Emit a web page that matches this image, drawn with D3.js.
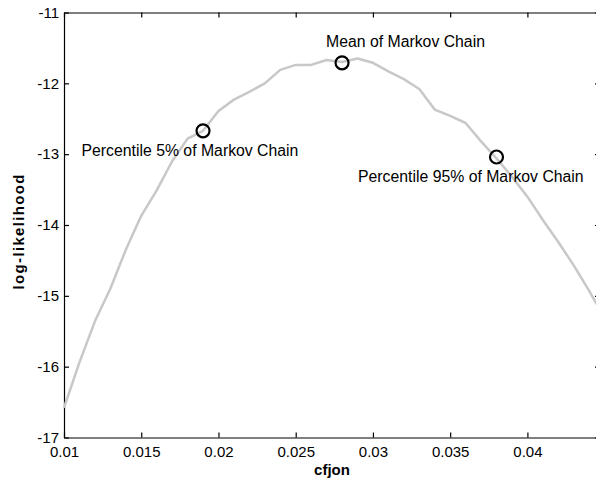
<!DOCTYPE html>
<html>
<head>
<meta charset="utf-8">
<script src="https://cdn.jsdelivr.net/npm/d3@7"></script>
<style>
  html, body { margin: 0; padding: 0; background: #fff; }
  svg { display: block; }
  text { font-family: "Liberation Sans", Arial, Helvetica, sans-serif; fill: #000; }
</style>
</head>
<body>
<svg id="chart" width="596" height="481"></svg>
<script>
// Profile log-likelihood as a function of cfjon
const cfjon = [0.010, 0.011, 0.012, 0.013, 0.014, 0.015, 0.016, 0.017, 0.018, 0.019,
               0.020, 0.021, 0.022, 0.023, 0.024, 0.025, 0.026, 0.027, 0.028, 0.029,
               0.030, 0.031, 0.032, 0.033, 0.034, 0.035, 0.036, 0.037, 0.038, 0.039,
               0.040, 0.041, 0.042, 0.043, 0.044, 0.0447];
const logLik = [-16.58, -15.94, -15.36, -14.90, -14.35, -13.87, -13.51, -13.10, -12.78, -12.67,
                -12.39, -12.23, -12.12, -12.00, -11.81, -11.74, -11.74, -11.67, -11.70, -11.65,
                -11.71, -11.83, -11.94, -12.08, -12.37, -12.46, -12.56, -12.82, -13.06, -13.32,
                -13.60, -13.93, -14.24, -14.57, -14.93, -15.20];

// Markov chain summary points
const markerLabels = ["Percentile 5% of Markov Chain", "Mean of Markov Chain", "Percentile 95% of Markov Chain"];
const markerX = [0.019, 0.028, 0.038];
const markerY = [-12.67, -11.71, -13.04];

const xTicks = [0.01, 0.015, 0.02, 0.025, 0.03, 0.035, 0.04];
const xTickLabels = ["0.01", "0.015", "0.02", "0.025", "0.03", "0.035", "0.04"];
const yTicks = [-17, -16, -15, -14, -13, -12, -11];
const yTickLabels = ["-17", "-16", "-15", "-14", "-13", "-12", "-11"];

const svg = d3.select("#chart");
const plotLeft = 64, plotTop = 12.5, plotRight = 600, plotBottom = 437.5;

const x = d3.scaleLinear().domain([0.01, 0.0447]).range([plotLeft, plotRight]);
const y = d3.scaleLinear().domain([-17, -11]).range([plotBottom, plotTop]);

// Box (axes on all four sides, ticks pointing inward)
const g = svg.append("g");

const fmtX = d => xTickLabels[xTicks.indexOf(d)];
const fmtY = d => yTickLabels[yTicks.indexOf(d)];

g.append("g")
  .attr("transform", `translate(0,${plotBottom})`)
  .call(d3.axisBottom(x).tickValues(xTicks).tickFormat(fmtX).tickSizeInner(-5).tickSizeOuter(0).tickPadding(9))
  .call(a => a.selectAll("text").attr("font-size", 15).attr("fill", "#000").attr("font-family", "Liberation Sans, Arial, sans-serif"));

g.append("g")
  .attr("transform", `translate(0,${plotTop})`)
  .call(d3.axisTop(x).tickValues(xTicks).tickFormat("").tickSizeInner(-5).tickSizeOuter(0));

g.append("g")
  .attr("transform", `translate(${plotLeft},0)`)
  .call(d3.axisLeft(y).tickValues(yTicks).tickFormat(fmtY).tickSizeInner(-5).tickSizeOuter(0).tickPadding(5))
  .call(a => a.selectAll("text").attr("font-size", 15).attr("fill", "#000").attr("font-family", "Liberation Sans, Arial, sans-serif"));

g.append("g")
  .attr("transform", `translate(${plotRight},0)`)
  .call(d3.axisRight(y).tickValues(yTicks).tickFormat("").tickSizeInner(-5).tickSizeOuter(0));

g.selectAll(".domain").attr("stroke", "#000").attr("stroke-width", 1.2);
g.selectAll(".tick line").attr("stroke", "#000").attr("stroke-width", 1.2);

// Curve
const line = d3.line().x((d, i) => x(cfjon[i])).y(d => y(d));
svg.append("path")
  .datum(logLik)
  .attr("d", line)
  .attr("fill", "none")
  .attr("stroke", "#c8c8c8")
  .attr("stroke-width", 2.5)
  .attr("stroke-linejoin", "round");

// Markers and their labels
const labelOffset = [[-121.5, 25], [-16, -15.5], [-138.5, 25]];
const pts = svg.append("g");
markerX.forEach((mx, i) => {
  pts.append("circle")
    .attr("cx", x(mx)).attr("cy", y(markerY[i]))
    .attr("r", 6.5)
    .attr("fill", "none")
    .attr("stroke", "#000")
    .attr("stroke-width", 2.2);
  pts.append("text")
    .attr("x", x(mx) + labelOffset[i][0])
    .attr("y", y(markerY[i]) + labelOffset[i][1])
    .attr("font-size", 15.8)
    .text(markerLabels[i]);
});

// Axis titles
svg.append("text")
  .attr("x", 332)
  .attr("y", 475)
  .attr("text-anchor", "middle")
  .attr("font-size", 15)
  .attr("font-weight", "bold")
  .text("cfjon");

svg.append("text")
  .attr("transform", "translate(24,232) rotate(-90)")
  .attr("text-anchor", "middle")
  .attr("font-size", 15)
  .attr("font-weight", "bold")
  .attr("textLength", 115)
  .attr("lengthAdjust", "spacing")
  .text("log-likelihood");
</script>
</body>
</html>
